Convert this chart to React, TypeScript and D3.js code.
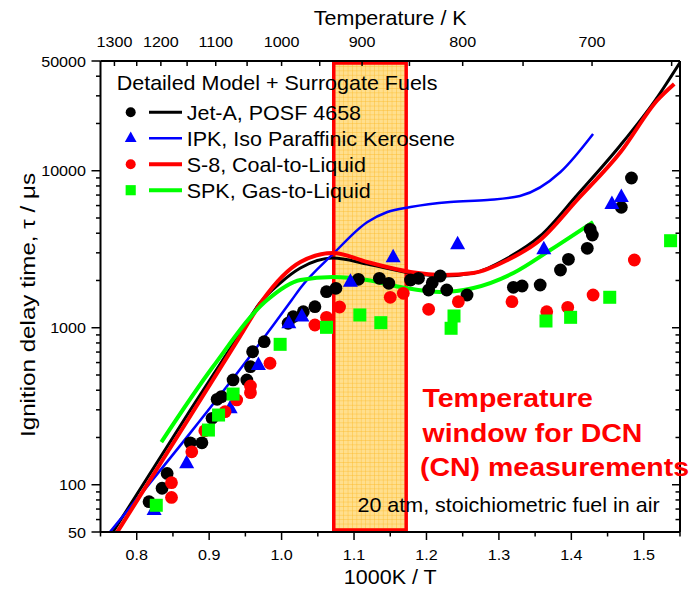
import React from "react";
import * as d3 from "d3";

type Pt = [number, number];

// measured ignition delay (1000/T, tau in microseconds)
const jetAData: Pt[] = [
  [0.817, 78], [0.835, 95], [0.842, 118], [0.874, 185], [0.890, 185], [0.904, 265],
  [0.911, 350], [0.917, 364], [0.933, 465], [0.952, 465], [0.957, 565], [0.960, 703],
  [0.976, 815], [1.009, 1068], [1.016, 1176], [1.030, 1265], [1.046, 1361], [1.062, 1697],
  [1.075, 1783], [1.106, 2035], [1.135, 2065], [1.148, 1919], [1.178, 2014], [1.189, 2065],
  [1.203, 1739], [1.208, 1936], [1.219, 2136], [1.228, 1739], [1.256, 1616], [1.320, 1810],
  [1.332, 1844], [1.357, 1871], [1.385, 2332], [1.396, 2729], [1.422, 3206], [1.426, 4236],
  [1.429, 3898], [1.469, 5850], [1.483, 8990],
];
const ipkData: Pt[] = [
  [0.800, 45], [0.824, 69], [0.869, 137], [0.929, 307], [0.968, 579], [1.010, 1068],
  [1.028, 1180], [1.095, 1964], [1.154, 2810], [1.243, 3400], [1.362, 3159], [1.456, 6140],
  [1.469, 6805],
];
const s8Data: Pt[] = [
  [0.848, 83], [0.848, 103], [0.876, 162], [0.894, 221], [0.922, 292], [0.938, 347],
  [0.957, 386], [0.957, 426], [0.984, 594], [1.046, 1041], [1.062, 1165], [1.080, 1355],
  [1.150, 1563], [1.168, 1657], [1.203, 1310], [1.244, 1465], [1.318, 1465], [1.366, 1265],
  [1.395, 1349], [1.430, 1616], [1.487, 2700],
];
const spkData: Pt[] = [
  [0.827, 74], [0.899, 223], [0.913, 278], [0.933, 378], [0.998, 784], [1.062, 1006],
  [1.108, 1206], [1.137, 1077], [1.234, 992], [1.238, 1188], [1.365, 1104], [1.399, 1165],
  [1.453, 1563], [1.537, 3584],
];

// detailed model curves
const jetAModel: Pt[] = [
  [0.766, 49], [0.874, 299], [0.943, 925], [0.970, 1437], [0.998, 1927], [1.026, 2402],
  [1.071, 2781], [1.118, 2547], [1.178, 2232], [1.223, 2136], [1.265, 2232], [1.312, 2781],
  [1.357, 3840], [1.408, 7006], [1.468, 14590], [1.516, 28220], [1.550, 49000],
];
const s8Model: Pt[] = [
  [0.772, 49], [0.874, 274], [0.943, 886], [0.974, 1502], [1.026, 2622], [1.071, 2992],
  [1.118, 2622], [1.178, 2265], [1.223, 2168], [1.265, 2232], [1.312, 2700], [1.357, 3621],
  [1.408, 6510], [1.468, 13150], [1.519, 28220], [1.542, 35700],
];
const ipkModel: Pt[] = [
  [0.763, 50], [0.874, 214], [0.943, 546], [1.014, 1502], [1.026, 1792], [1.071, 2950],
  [1.118, 4700], [1.146, 5460], [1.178, 5875], [1.233, 6325], [1.284, 6510], [1.329, 6903],
  [1.385, 9816], [1.430, 17140],
];
const spkModel: Pt[] = [
  [0.834, 187], [0.905, 562], [0.980, 1502], [1.026, 2014], [1.071, 2105], [1.118, 2014],
  [1.164, 1818], [1.219, 1690], [1.265, 1792], [1.320, 2232], [1.371, 3127], [1.430, 4715],
];

const xTicks = [0.8, 0.9, 1.0, 1.1, 1.2, 1.3, 1.4, 1.5];
const xMinorTicks = [0.75, 0.85, 0.95, 1.05, 1.15, 1.25, 1.35, 1.45, 1.55];
const yLabelTicks = [50, 100, 1000, 10000, 50000];
const tempLabels = [1300, 1200, 1100, 1000, 900, 800, 700];
const tempMinor = [1250, 1150, 1050, 950, 850, 750, 650];
const windowX = [1.072, 1.172];

const series = [
  { name: "Jet-A, POSF 4658", color: "#000000", marker: "circle", data: jetAData, model: jetAModel, lw: 3 },
  { name: "IPK, Iso Paraffinic Kerosene", color: "#0000ff", marker: "triangle", data: ipkData, model: ipkModel, lw: 2.5 },
  { name: "S-8, Coal-to-Liquid", color: "#ff0000", marker: "circle", data: s8Data, model: s8Model, lw: 4 },
  { name: "SPK, Gas-to-Liquid", color: "#00ff00", marker: "square", data: spkData, model: spkModel, lw: 4 },
];

const W = 696;
const H = 590;
const L = 100.5, R = 680, T = 61, B = 532;
const SX = 1.075; // the original's type is a little wide
const FONT = "'Liberation Sans', Arial, sans-serif";

const x = d3.scaleLinear().domain([0.75, 1.55]).range([L, R]);
const y = d3.scaleLog().domain([50, 50000]).range([B, T]);

const yMinor: number[] = [];
[10, 100, 1000, 10000].forEach((d) => {
  for (let k = 1; k <= 9; k++) {
    const v = k * d;
    if (v > 50 && v < 50000 && !yLabelTicks.includes(v)) yMinor.push(v);
  }
});

const Txt = ({ x, y, size = 15, anchor = "start", weight = "normal", fill = "#000", children }: any) => (
  <text
    transform={`translate(${x},${y}) scale(${SX},1)`}
    fontSize={size}
    fontWeight={weight}
    textAnchor={anchor}
    fill={fill}
    fontFamily={FONT}
  >
    {children}
  </text>
);

const Marker = ({ kind, cx, cy, color, s = 1 }: any) => {
  if (kind === "circle") return <circle cx={cx} cy={cy} r={6.4 * s} fill={color} />;
  if (kind === "triangle")
    return (
      <path
        d={`M${cx},${cy - 8.5 * s}L${cx + 7.5 * s},${cy + 5 * s}L${cx - 7.5 * s},${cy + 5 * s}Z`}
        fill={color}
      />
    );
  return <rect x={cx - 6.5 * s} y={cy - 6.5 * s} width={13 * s} height={13 * s} fill={color} />;
};

export default function App() {
  const line = d3
    .line<Pt>()
    .x((d) => x(d[0]))
    .y((d) => y(d[1]))
    .curve(d3.curveMonotoneX);

  return (
    <svg
      width={W}
      height={H}
      style={{ position: "absolute", left: 0, top: 0, background: "#fff" }}
      fontFamily={FONT}
    >
      <defs>
        <clipPath id="plot">
          <rect x={L} y={T} width={R - L} height={B - T} />
        </clipPath>
        <pattern id="grid" width={4.4} height={4.4} patternUnits="userSpaceOnUse">
          <rect width={4.4} height={4.4} fill="#ffdf8e" />
          <path d="M0,0H4.4M0,0V4.4" stroke="#fdb827" strokeWidth={0.8} />
        </pattern>
      </defs>

      {/* DCN temperature window */}
      <rect
        x={x(windowX[0])}
        y={T + 2}
        width={x(windowX[1]) - x(windowX[0])}
        height={B - T - 4}
        fill="url(#grid)"
        stroke="#ff0000"
        strokeWidth={3.5}
      />

      <g clipPath="url(#plot)">
        {series.map((s) => (
          <path key={s.name} d={line(s.model) || ""} fill="none" stroke={s.color} strokeWidth={s.lw} />
        ))}
        {series.map((s) =>
          s.data.map((d, i) => (
            <Marker key={s.name + i} kind={s.marker} cx={x(d[0])} cy={y(d[1])} color={s.color} />
          ))
        )}
      </g>

      {/* frame */}
      <g stroke="#000" strokeWidth={2} fill="none">
        <line x1={L} x2={R} y1={B} y2={B} />
        <line x1={L} x2={R} y1={T} y2={T} />
        <line x1={L} x2={L} y1={T} y2={B} />
        <line x1={R} x2={R} y1={T} y2={B} />
      </g>

      {/* bottom axis */}
      <g stroke="#000" strokeWidth={1.5}>
        {xTicks.map((t) => (
          <line key={t} x1={x(t)} x2={x(t)} y1={B} y2={B + 8} />
        ))}
        {xMinorTicks.map((t) => (
          <line key={t} x1={x(t)} x2={x(t)} y1={B} y2={B + 4.5} />
        ))}
      </g>
      {xTicks.map((t) => (
        <Txt key={t} x={x(t)} y={560} anchor="middle">
          {t.toFixed(1)}
        </Txt>
      ))}
      <Txt x={(L + R) / 2} y={584} size={20} anchor="middle">
        1000K / T
      </Txt>

      {/* top axis: temperature */}
      <g stroke="#000" strokeWidth={1.5}>
        {tempLabels.concat(tempMinor).map((t) => (
          <line key={t} x1={x(1000 / t)} x2={x(1000 / t)} y1={T} y2={T + 5} />
        ))}
      </g>
      {tempLabels.map((t) => (
        <Txt key={t} x={x(1000 / t)} y={46.5} anchor="middle">
          {t}
        </Txt>
      ))}
      <Txt x={(L + R) / 2} y={25} size={20} anchor="middle">
        Temperature / K
      </Txt>

      {/* left + right axes */}
      <g stroke="#000" strokeWidth={1.5}>
        {yLabelTicks.map((t) => (
          <g key={t}>
            <line x1={L - 9} x2={L} y1={y(t)} y2={y(t)} />
            <line x1={R - 8} x2={R} y1={y(t)} y2={y(t)} />
          </g>
        ))}
        {yMinor.map((t) => (
          <g key={t}>
            <line x1={L - 4.5} x2={L} y1={y(t)} y2={y(t)} />
            <line x1={R - 4.5} x2={R} y1={y(t)} y2={y(t)} />
          </g>
        ))}
      </g>
      {yLabelTicks.map((t) => (
        <Txt key={t} x={86} y={y(t) + 5.5} anchor="end">
          {t}
        </Txt>
      ))}
      <text
        transform="translate(35,305) rotate(-90)"
        fontSize={20}
        textAnchor="middle"
        textLength={264}
        lengthAdjust="spacingAndGlyphs"
      >
        Ignition delay time, τ / μs
      </text>

      {/* legend */}
      <Txt x={116.7} y={90} size={20}>
        Detailed Model + Surrogate Fuels
      </Txt>
      {series.map((s, i) => {
        const by = 119.5 + 26 * i;
        const cy = by - 7.3;
        return (
          <g key={s.name}>
            <Marker kind={s.marker} cx={130.7} cy={cy} color={s.color} s={0.78} />
            <line x1={149} x2={182} y1={cy} y2={cy} stroke={s.color} strokeWidth={s.lw} />
            <Txt x={186.7} y={by} size={20}>
              {s.name}
            </Txt>
          </g>
        );
      })}

      {/* annotations */}
      <Txt x={422.5} y={407} size={26.5} weight="bold" fill="#ff0000">
        Temperature
      </Txt>
      <Txt x={422.5} y={442} size={26.5} weight="bold" fill="#ff0000">
        window for DCN
      </Txt>
      <Txt x={420} y={476} size={26.5} weight="bold" fill="#ff0000">
        (CN) measurements
      </Txt>
      <Txt x={357.5} y={512} size={20}>
        20 atm, stoichiometric fuel in air
      </Txt>
    </svg>
  );
}
